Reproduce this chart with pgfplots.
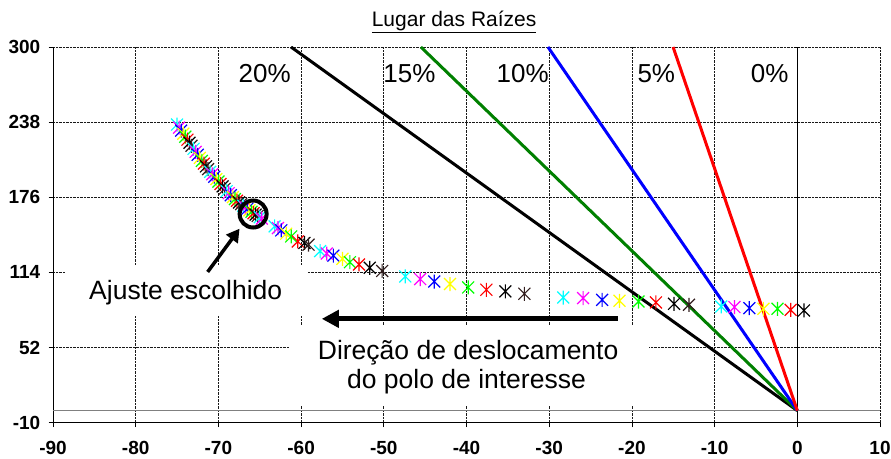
\documentclass[border=0pt]{standalone}
\usepackage{pgfplots}
\pgfplotsset{compat=1.18}
\usepackage{fontspec}
\setmainfont{Liberation Sans}
\usetikzlibrary{arrows.meta}

\definecolor{xcyan}{RGB}{0,255,255}
\definecolor{xmag}{RGB}{255,0,255}
\definecolor{xblue}{RGB}{0,0,255}
\definecolor{xyel}{RGB}{255,255,0}
\definecolor{xgreen}{RGB}{0,255,0}
\definecolor{xred}{RGB}{255,0,0}
\definecolor{xdark}{RGB}{50,30,30}
\definecolor{dgreen}{RGB}{0,128,0}

\pgfdeclareplotmark{xlstar}{%
  \pgfpathmoveto{\pgfqpoint{0pt}{\pgfplotmarksize}}%
  \pgfpathlineto{\pgfqpoint{0pt}{-\pgfplotmarksize}}%
  \pgfpathmoveto{\pgfpoint{-0.85\pgfplotmarksize}{-0.85\pgfplotmarksize}}%
  \pgfpathlineto{\pgfpoint{0.85\pgfplotmarksize}{0.85\pgfplotmarksize}}%
  \pgfpathmoveto{\pgfpoint{-0.85\pgfplotmarksize}{0.85\pgfplotmarksize}}%
  \pgfpathlineto{\pgfpoint{0.85\pgfplotmarksize}{-0.85\pgfplotmarksize}}%
  \pgfusepathqstroke}

\pgfplotstableread{
x y c
-75.00 236.0 c
-74.75 233.5 m
-74.50 231.0 b
-74.25 228.5 y
-74.00 226.0 g
-73.75 223.5 r
-73.50 221.0 k
-73.25 218.5 d
-73.00 216.0 c
-72.75 213.5 m
-72.50 211.0 b
-72.25 208.5 y
-72.00 206.0 g
-71.75 203.75 r
-71.50 201.5 k
-71.25 199.25 d
-71.00 197.0 c
-70.75 195.0 m
-70.50 193.0 b
-70.25 191.0 y
-70.00 189.0 g
-69.75 187.0 r
-69.50 185.0 k
-69.25 183.0 d
-69.00 181.0 c
-68.75 179.4 m
-68.50 177.75 b
-68.25 176.1 y
-68.00 174.5 g
-67.75 173.1 r
-67.50 171.75 k
-67.25 170.4 d
-67.00 169.0 c
-66.75 167.75 m
-66.50 166.5 b
-66.25 165.25 y
-66.00 164.0 g
-65.75 162.9 r
-65.50 161.75 k
-65.25 160.6 d
-65.00 159.5 c
-64.75 158.4 m
-63.2 152.0 c
-62.8 150.6 m
-62.4 148.7 b
-61.8 146.0 y
-61.2 143.7 g
-60.4 139.6 r
-59.6 138.3 k
-59.1 136.9 d
-57.7 131.6 c
-56.9 129.6 m
-56.1 127.8 b
-55.0 125.2 y
-54.1 122.4 g
-53.0 120.6 r
-51.7 117.8 k
-50.2 115.2 d
-47.4 110.7 c
-45.6 108.5 m
-43.9 106.5 b
-42.0 104.4 y
-39.8 101.6 g
-37.6 99.7 r
-35.3 98.3 k
-33.0 96.4 d
-28.3 93.3 c
-25.9 92.8 m
-23.6 91.4 b
-21.5 90.6 y
-19.2 90.0 g
-17.1 89.2 r
-14.9 88.1 k
-13.1 87.3 d
-9.2 85.9 c
-7.6 85.4 m
-5.8 84.5 b
-4.1 84.0 y
-2.4 84.0 g
-0.8 83.1 r
0.8 82.6 k
}\polos

\begin{document}
\begin{tikzpicture}
\useasboundingbox (-53pt,-35.3pt) rectangle (838pt,422.7pt);
\begin{axis}[
  at={(0,0)}, anchor=south west,
  scale only axis,
  width=827pt, height=375.7pt,
  xmin=-90, xmax=10, ymin=-10, ymax=300,
  axis x line*=bottom, axis y line*=left,
  axis line style={black, line width=1pt},
  xtick={-90,-80,-70,-60,-50,-40,-30,-20,-10,0,10},
  xticklabels={-90,-80,-70,-60,-50,-40,-30,-20,-10,0,10},
  ytick={-10,52,114,176,238,300},
  yticklabels={-10,52,114,176,238,300},
  tick align=outside,
  major tick length=4.5pt,
  tick style={black, line width=0.8pt},
  grid=major,
  grid style={black!90, densely dotted, line width=0.8pt},
  xticklabel style={font=\bfseries\fontsize{19}{19}\selectfont, anchor=north, inner sep=0pt, yshift=-14pt},
  yticklabel style={font=\bfseries\fontsize{19}{19}\selectfont, anchor=east, inner sep=0pt, xshift=-8pt},
  clip mode=individual,
]
% white boxes behind the annotations
\fill[white] (axis cs:-88.5,78.2) rectangle (axis cs:-59.3,120.3);
\fill[white] (axis cs:-61.5,3.8) rectangle (axis cs:-17.9,70.7);

\addplot[gray, line width=1.6pt] coordinates {(-90,0) (10,0)};
\addplot[black, line width=1.2pt, mark=-, mark size=3pt, mark options={line width=0.8pt}]
  coordinates {(0,-10) (0,52) (0,114) (0,176) (0,238) (0,300)};

\addplot[black, line width=3pt] coordinates {(0,0) (-61.22,300)};
\addplot[dgreen, line width=3pt] coordinates {(0,0) (-45.52,300)};
\addplot[xblue, line width=3pt] coordinates {(0,0) (-30.15,300)};
\addplot[xred, line width=3pt] coordinates {(0,0) (-15.02,300)};

\addplot[scatter, only marks, mark=xlstar, mark size=7pt,
  scatter src=explicit symbolic,
  scatter/classes={
    c={xcyan, line width=1.2pt},
    m={xmag, line width=1.2pt},
    b={xblue, line width=1.2pt},
    y={xyel, line width=1.2pt},
    g={xgreen, line width=1.2pt},
    r={xred, line width=1.2pt},
    k={black, line width=1.2pt},
    d={xdark, line width=1.2pt}}]
  table[x=x, y=y, meta=c] {\polos};

% annotations
\node[font=\fontsize{26}{28}\selectfont] at (axis cs:-64.4,278) {20\%};
\node[font=\fontsize{26}{28}\selectfont] at (axis cs:-46.9,278) {15\%};
\node[font=\fontsize{26}{28}\selectfont] at (axis cs:-33.2,278) {10\%};
\node[font=\fontsize{26}{28}\selectfont] at (axis cs:-17.05,278) {5\%};
\node[font=\fontsize{26}{28}\selectfont] at (axis cs:-3.35,278) {0\%};

\node[font=\fontsize{26.5}{28}\selectfont, anchor=base, inner sep=0pt] at (axis cs:-73.95,91.4) {Ajuste escolhido};
\node[font=\fontsize{26.5}{28}\selectfont, anchor=base, inner sep=0pt] at (axis cs:-39.8,41.8) {Direção de deslocamento};
\node[font=\fontsize{26.5}{28}\selectfont, anchor=base, inner sep=0pt] at (axis cs:-40.0,18.4) {do polo de interesse};

\draw[line width=3.5pt, -{Triangle[length=13pt,width=14pt]}] (axis cs:-71.3,114.4) -- (axis cs:-67.44,150.1);
\draw[line width=5pt, -{Triangle[length=17pt,width=17pt]}] (axis cs:-21.7,75.7) -- (axis cs:-57.5,75.7);
\draw[line width=4pt] (axis cs:-65.8,162.2) circle[radius=13.5pt];

\node[font=\fontsize{21}{23}\selectfont, anchor=base, inner sep=0pt, yshift=20.5pt] at (axis cs:-41.5,300) {\underline{Lugar das Raízes}};
\end{axis}
\end{tikzpicture}
\end{document}
